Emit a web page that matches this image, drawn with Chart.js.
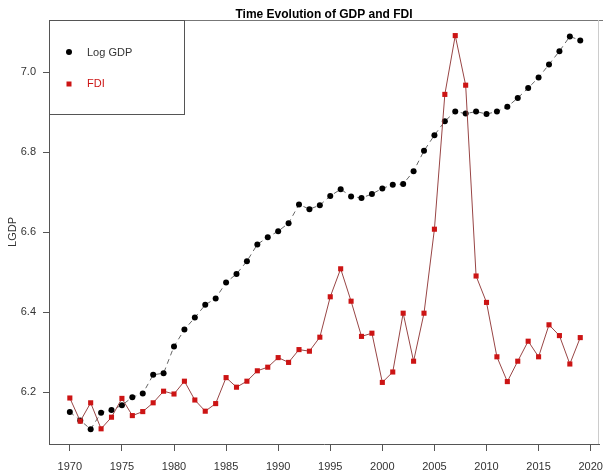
<!DOCTYPE html>
<html>
<head>
<meta charset="utf-8">
<script src="https://cdn.jsdelivr.net/npm/chart.js@4.4.0/dist/chart.umd.min.js"></script>
<style>
  html, body { margin: 0; padding: 0; background: #fff; }
  canvas { display: block; }
</style>
</head>
<body>
<canvas id="gdpChart" width="603" height="475"></canvas>
<script>
// Time evolution of log GDP and FDI
const years = [1970, 1971, 1972, 1973, 1974, 1975, 1976, 1977, 1978, 1979,
               1980, 1981, 1982, 1983, 1984, 1985, 1986, 1987, 1988, 1989,
               1990, 1991, 1992, 1993, 1994, 1995, 1996, 1997, 1998, 1999,
               2000, 2001, 2002, 2003, 2004, 2005, 2006, 2007, 2008, 2009,
               2010, 2011, 2012, 2013, 2014, 2015, 2016, 2017, 2018, 2019];

const logGdp = [6.151, 6.130, 6.108, 6.149, 6.156, 6.168, 6.188, 6.197, 6.244, 6.248,
                6.315, 6.357, 6.387, 6.419, 6.435, 6.475, 6.496, 6.528, 6.570, 6.588,
                6.603, 6.623, 6.670, 6.658, 6.668, 6.691, 6.708, 6.690, 6.686, 6.696,
                6.710, 6.719, 6.721, 6.753, 6.804, 6.843, 6.878, 6.902, 6.897, 6.902,
                6.896, 6.902, 6.914, 6.936, 6.961, 6.987, 7.020, 7.053, 7.090, 7.080];

const fdi = [6.186, 6.128, 6.174, 6.109, 6.138, 6.185, 6.142, 6.152, 6.174, 6.203,
             6.196, 6.228, 6.181, 6.153, 6.172, 6.237, 6.213, 6.228, 6.254, 6.263,
             6.287, 6.275, 6.307, 6.303, 6.338, 6.439, 6.509, 6.428, 6.340, 6.348,
             6.225, 6.251, 6.398, 6.278, 6.398, 6.608, 6.945, 7.092, 6.968, 6.491,
             6.425, 6.289, 6.227, 6.278, 6.328, 6.289, 6.369, 6.342, 6.271, 6.337];

const xTicks = [1970, 1975, 1980, 1985, 1990, 1995, 2000, 2005, 2010, 2015, 2020];
const yTicks = [6.2, 6.4, 6.6, 6.8, 7.0];

const FONT = '"Liberation Sans", Arial, sans-serif';

// title, box and legend drawn by hand so they sit where R put them
const framePlugin = {
  id: 'frame',
  afterDatasetsDraw(chart) {
    const { ctx, chartArea: a } = chart;
    ctx.save();
    // top and right of the plot box
    ctx.lineWidth = 1;
    ctx.strokeStyle = '#777';
    ctx.beginPath();
    ctx.moveTo(a.left, a.top + 0.5);
    ctx.lineTo(chart.width, a.top + 0.5);
    ctx.stroke();
    ctx.strokeStyle = '#ccc';
    ctx.beginPath();
    ctx.moveTo(a.right - 0.5, a.top);
    ctx.lineTo(a.right - 0.5, a.bottom);
    ctx.stroke();

    // title
    ctx.fillStyle = '#000';
    ctx.font = 'bold 12px ' + FONT;
    ctx.textAlign = 'center';
    ctx.textBaseline = 'alphabetic';
    ctx.fillText('Time Evolution of GDP and FDI', (a.left + a.right) / 2, 18);

    // legend box
    ctx.fillStyle = '#fff';
    ctx.fillRect(a.left, a.top, 135, 94);
    ctx.strokeStyle = '#555';
    ctx.strokeRect(a.left + 0.5, a.top + 0.5, 135, 94);

    ctx.fillStyle = '#000';
    ctx.beginPath();
    ctx.arc(a.left + 20, a.top + 32, 3, 0, Math.PI * 2);
    ctx.fill();
    ctx.fillStyle = '#cc1414';
    ctx.fillRect(a.left + 17.5, a.top + 61.5, 5, 5);

    ctx.font = '11px ' + FONT;
    ctx.textAlign = 'left';
    ctx.textBaseline = 'middle';
    ctx.fillStyle = '#333';
    ctx.fillText('Log GDP', a.left + 38, a.top + 33);
    ctx.fillStyle = '#cc1414';
    ctx.fillText('FDI', a.left + 38, a.top + 64);
    ctx.restore();
  }
};

const ctx = document.getElementById('gdpChart').getContext('2d');

new Chart(ctx, {
  type: 'scatter',
  data: {
    datasets: [
      {
        label: 'FDI',
        data: years.map((y, i) => ({ x: y, y: fdi[i] })),
        showLine: true,
        borderColor: '#984545',
        borderWidth: 1,
        pointStyle: 'rect',
        pointRadius: 3.6,
        pointBackgroundColor: '#cc1414',
        pointBorderWidth: 0,
        order: 0
      },
      {
        label: 'Log GDP',
        data: years.map((y, i) => ({ x: y, y: logGdp[i] })),
        showLine: true,
        borderColor: '#666',
        borderWidth: 1,
        borderDash: [5, 4],
        pointStyle: 'circle',
        pointRadius: 3,
        pointBackgroundColor: '#000',
        pointBorderWidth: 0,
        order: 1
      }
    ]
  },
  options: {
    responsive: false,
    animation: false,
    layout: { padding: { top: 20, right: 1, left: 0, bottom: 0 } },
    plugins: {
      legend: { display: false },
      title: { display: false },
      tooltip: { enabled: false }
    },
    scales: {
      x: {
        type: 'linear',
        min: 1968,
        max: 2020.8,
        afterBuildTicks: (scale) => { scale.ticks = xTicks.map(v => ({ value: v })); },
        afterFit: (scale) => {
          scale.height = 31;
          scale.paddingLeft = 0;
          scale.paddingRight = 0;
        },
        border: { display: true, color: '#555', width: 1 },
        grid: { display: true, drawOnChartArea: false, drawTicks: true, tickLength: 7, color: '#555' },
        ticks: {
          autoSkip: false,
          maxRotation: 0,
          padding: 9,
          color: '#333',
          font: { family: FONT, size: 11 },
          callback: (v) => String(v)
        }
      },
      y: {
        min: 6.071,
        max: 7.131,
        afterBuildTicks: (scale) => { scale.ticks = yTicks.map(v => ({ value: v })); },
        afterFit: (scale) => {
          scale.width = 49;
          scale.paddingTop = 0;
          scale.paddingBottom = 0;
        },
        border: { display: true, color: '#555', width: 1 },
        grid: { display: true, drawOnChartArea: false, drawTicks: true, tickLength: 6, color: '#555' },
        title: {
          display: true,
          text: 'LGDP',
          color: '#333',
          font: { family: FONT, size: 11 },
          padding: { top: 6, bottom: 0 }
        },
        ticks: {
          padding: 7,
          color: '#333',
          font: { family: FONT, size: 11 },
          callback: (v) => v.toFixed(1)
        }
      }
    }
  },
  plugins: [framePlugin]
});
</script>
</body>
</html>
